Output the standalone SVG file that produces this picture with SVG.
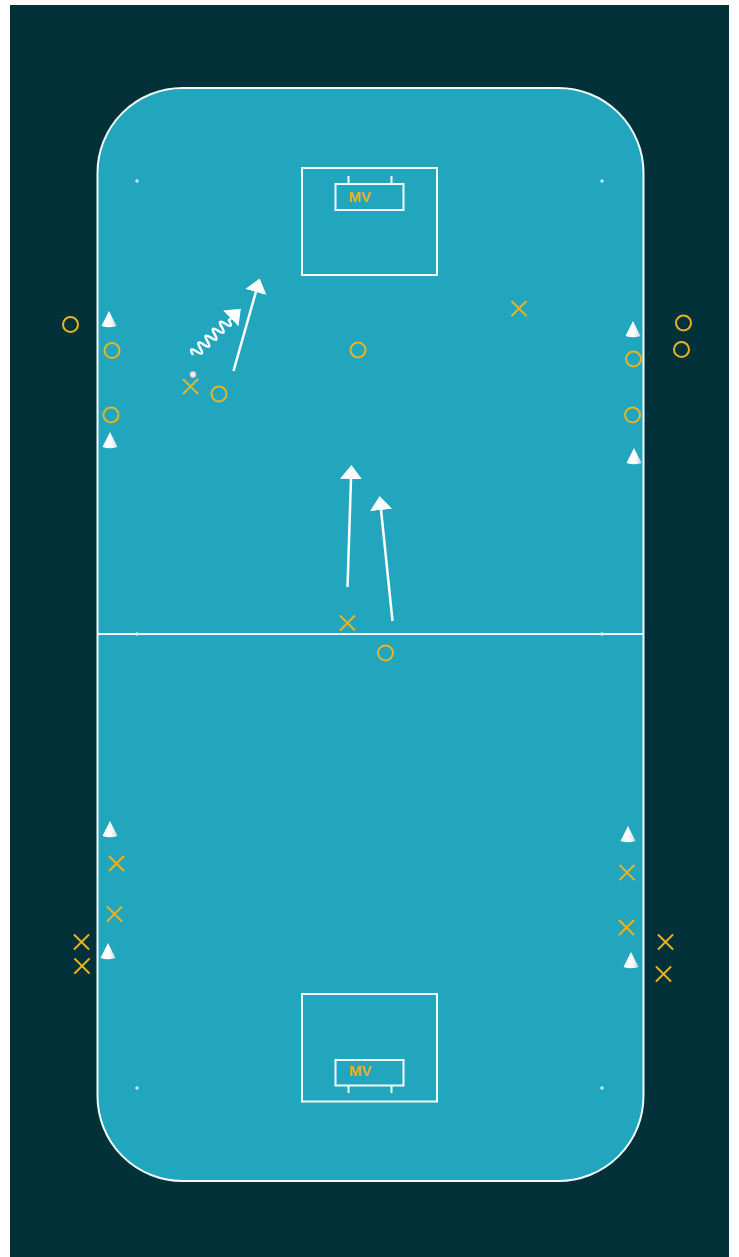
<svg xmlns="http://www.w3.org/2000/svg" width="739" height="1257" viewBox="0 0 739 1257">
<style>
.line{fill:none;stroke:#f2fbfc;stroke-width:2}
.mark{stroke:#d8f2f6;stroke-width:1.2}
.ring{fill:none;stroke:#e6b324;stroke-width:2}
.cross{stroke:#e6b324;stroke-width:2;stroke-linecap:round}
.arrow{fill:none;stroke:#ffffff;stroke-width:2.5}
.mv{font-family:"Liberation Sans",Arial,sans-serif;font-weight:bold;font-size:15px;fill:#e8b020}
</style>
<defs>
<linearGradient id="coneGrad" x1="0" y1="0" x2="1" y2="0">
<stop offset="0" stop-color="#ffffff"/>
<stop offset="0.55" stop-color="#ffffff"/>
<stop offset="1" stop-color="#c9d9dc"/>
</linearGradient>
<path id="cone" d="M0,0 L7.5,15 Q0,17.5 -7.5,15 Z" fill="url(#coneGrad)"/>
<marker id="head" viewBox="0 0 14 22" refX="0.5" refY="11" markerWidth="14" markerHeight="22" markerUnits="userSpaceOnUse" orient="auto">
<path d="M0,0 L14,11 L0,22 Z" fill="#ffffff"/>
</marker>
<g id="x"><line class="cross" x1="-7" y1="-7" x2="7" y2="7"/><line class="cross" x1="-7" y1="7" x2="7" y2="-7"/></g>
<g id="plus"><line class="mark" x1="-2" y1="0" x2="2" y2="0"/><line class="mark" x1="0" y1="-2" x2="0" y2="2"/></g>
</defs>

<rect x="10" y="5" width="719" height="1252" fill="#03313a"/>

<g id="court">
<rect x="97.5" y="88" width="546" height="1093" rx="85" ry="85" fill="#22a6bd" stroke="#f2fbfc" stroke-width="2"/>
<line class="line" x1="97.5" y1="634" x2="643.5" y2="634"/>
<use href="#plus" x="137" y="181"/>
<use href="#plus" x="602" y="181"/>
<use href="#plus" x="137" y="634"/>
<use href="#plus" x="602" y="634"/>
<use href="#plus" x="137" y="1088"/>
<use href="#plus" x="602" y="1088"/>
</g>

<g id="goal-top">
<rect class="line" x="302" y="168" width="135" height="107"/>
<rect class="line" x="335.5" y="184" width="68" height="26"/>
<line class="line" x1="348.5" y1="176" x2="348.5" y2="184"/>
<line class="line" x1="391.5" y1="176" x2="391.5" y2="184"/>
<text class="mv" x="348.5" y="202">MV</text>
</g>

<g id="goal-bottom">
<rect class="line" x="302" y="994" width="135" height="107.5"/>
<rect class="line" x="335.5" y="1060" width="68" height="25.5"/>
<line class="line" x1="348.5" y1="1085.5" x2="348.5" y2="1093"/>
<line class="line" x1="391.5" y1="1085.5" x2="391.5" y2="1093"/>
<text class="mv" x="349" y="1076">MV</text>
</g>

<g id="cones">
<use href="#cone" x="109" y="311"/>
<use href="#cone" x="110" y="432"/>
<use href="#cone" x="110" y="821"/>
<use href="#cone" x="108" y="943"/>
<use href="#cone" x="633" y="321"/>
<use href="#cone" x="634" y="448"/>
<use href="#cone" x="628" y="826"/>
<use href="#cone" x="631" y="952"/>
</g>

<g id="players-o">
<circle class="ring" cx="70.5" cy="324.5" r="7.5"/>
<circle class="ring" cx="112" cy="350.5" r="7.5"/>
<circle class="ring" cx="111" cy="415" r="7.5"/>
<circle class="ring" cx="683.5" cy="323" r="7.5"/>
<circle class="ring" cx="681.5" cy="349.5" r="7.5"/>
<circle class="ring" cx="633.5" cy="359" r="7.5"/>
<circle class="ring" cx="632.5" cy="415" r="7.5"/>
<circle class="ring" cx="358" cy="350" r="7.5"/>
<circle class="ring" cx="219" cy="394" r="7.5"/>
<circle class="ring" cx="385.5" cy="653" r="7.5"/>
</g>

<g id="players-x">
<use href="#x" x="519" y="308.5"/>
<use href="#x" x="190.5" y="386.5"/>
<use href="#x" x="347.5" y="623"/>
<use href="#x" x="116.5" y="863.5"/>
<use href="#x" x="114.5" y="914"/>
<use href="#x" x="81.5" y="942"/>
<use href="#x" x="82" y="966"/>
<use href="#x" x="627" y="872.5"/>
<use href="#x" x="626.5" y="927.5"/>
<use href="#x" x="665.5" y="942"/>
<use href="#x" x="663.5" y="974"/>
</g>

<g id="ball">
<circle cx="193" cy="374.5" r="3" fill="#f6eef0" stroke="#e2b4c0" stroke-width="0.8"/>
</g>

<g id="connectors">
<path class="arrow" d="M0,0 q2.5,-10 5,0 t5,0 t5,0 t5,0 t5,0 t5,0 t5,0 t5,0 t5,0 t5,0 l3,0" stroke-width="2" marker-end="url(#head)" transform="translate(193,355) rotate(-44)"/>
<line class="arrow" x1="233.5" y1="371" x2="256" y2="291.5" marker-end="url(#head)"/>
<line class="arrow" x1="347.5" y1="587" x2="351" y2="478.5" marker-end="url(#head)"/>
<line class="arrow" x1="392.5" y1="621" x2="381" y2="509.5" marker-end="url(#head)"/>
</g>
</svg>
